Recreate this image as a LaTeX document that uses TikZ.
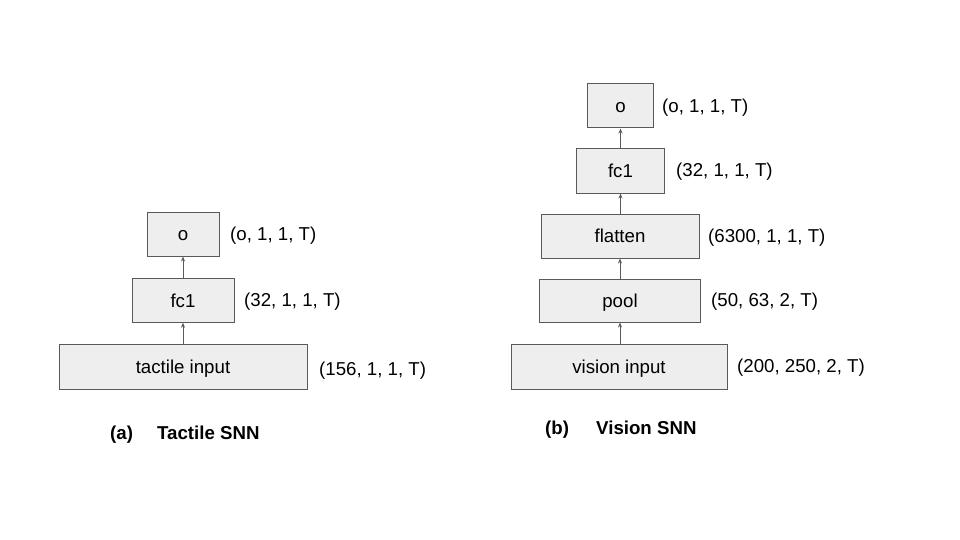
\documentclass[tikz,border=0pt]{standalone}
\usepackage{fontspec}
\setmainfont{Liberation Sans}
\usetikzlibrary{arrows.meta}
\definecolor{boxfill}{HTML}{EEEEEE}
\definecolor{boxline}{HTML}{595959}
\tikzset{
  txt/.style={text height=13.4pt, text depth=0pt, font=\fontsize{18.67}{22}\selectfont},
  layer/.style={txt, draw=boxline, fill=boxfill, line width=1pt, inner sep=0pt},
  dimlabel/.style={txt, anchor=west, inner sep=0pt},
  caption/.style={txt, anchor=west, inner sep=0pt, font=\fontsize{18.67}{22}\selectfont\bfseries},
  flow/.style={draw=boxline, line width=1pt, -{Stealth[length=5pt,width=4pt]}}
}
\begin{document}
\begin{tikzpicture}[x=1pt,y=-1pt]
\useasboundingbox (0,0) rectangle (960,540);
% Tactile SNN
\node[layer, minimum width=72pt, minimum height=44pt] (to) at (183,234) {o};
\node[layer, minimum width=102pt, minimum height=43.5pt] (tfc) at (183,300.5) {fc1};
\node[layer, minimum width=248pt, minimum height=45pt] (tin) at (183,366.5) {tactile input};
\draw[flow] (tin) -- (tfc);
\draw[flow] (tfc) -- (to);
\node[dimlabel] (tol) at (230,234) {(o, 1, 1, T)};
\node[dimlabel] (tfcl) at (244,300) {(32, 1, 1, T)};
\node[dimlabel] (tinl) at (319,369) {(156, 1, 1, T)};
\node[caption] (ta) at (110,433) {(a)};
\node[caption] (tt) at (157,433) {Tactile SNN};
% Vision SNN
\node[layer, minimum width=66pt, minimum height=44pt] (vo) at (620.5,106) {o};
\node[layer, minimum width=88pt, minimum height=44pt] (vfc) at (620.5,171) {fc1};
\node[layer, minimum width=158pt, minimum height=44pt] (vfl) at (620,236) {flatten};
\node[layer, minimum width=161pt, minimum height=43pt] (vp) at (620,300.5) {pool};
\node[layer, minimum width=216pt, minimum height=45pt] (vin) at (619,366.5) {vision input};
\draw[flow] (vin.north -| vp) -- (vp);
\draw[flow] (vp.north -| vfl) -- (vfl);
\draw[flow] (vfl.north -| vfc) -- (vfc);
\draw[flow] (vfc) -- (vo);
\node[dimlabel] (vol) at (662,106) {(o, 1, 1, T)};
\node[dimlabel] (vfcl) at (676,170) {(32, 1, 1, T)};
\node[dimlabel] (vfll) at (708,236) {(6300, 1, 1, T)};
\node[dimlabel] (vpl) at (711,300) {(50, 63, 2, T)};
\node[dimlabel] (vinl) at (737,366) {(200, 250, 2, T)};
\node[caption] (va) at (545,428) {(b)};
\node[caption] (vt) at (596,428) {Vision SNN};
\end{tikzpicture}
\end{document}
